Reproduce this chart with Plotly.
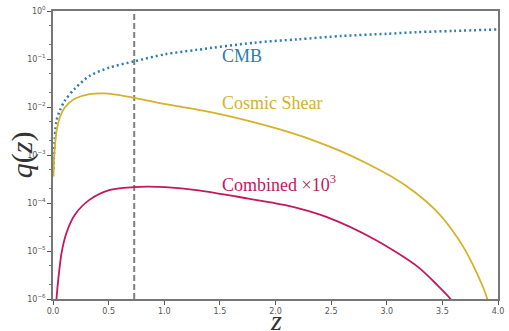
import plotly.graph_objects as go

# --- data (log10 of q) ---
z_cmb = [0.004, 0.03, 0.062, 0.106, 0.195, 0.33, 0.506, 0.727, 1.01, 1.29, 1.81, 2.2, 2.6, 3.0, 3.28, 3.6, 4.0]
lq_cmb = [-3.3, -2.3, -2.07, -1.87, -1.62, -1.35, -1.18, -1.05, -0.90, -0.81, -0.66, -0.59, -0.52, -0.475, -0.44, -0.415, -0.385]

z_cs = [0.004, 0.01, 0.02, 0.033, 0.062, 0.106, 0.195, 0.33, 0.446, 0.565, 0.727, 1.01, 1.215, 1.5,
        1.81, 2.1, 2.37, 2.575, 2.8, 3.05, 3.25, 3.43, 3.58, 3.70, 3.85, 3.905, 3.93]
lq_cs = [-3.45, -3.05, -2.75, -2.48, -2.21, -2.01, -1.83, -1.73, -1.715, -1.74, -1.81, -1.94, -2.02, -2.15,
         -2.32, -2.51, -2.72, -2.91, -3.15, -3.46, -3.77, -4.13, -4.54, -4.96, -5.67, -6.02, -7.0]

z_comb = [0.02, 0.033, 0.047, 0.077, 0.12, 0.195, 0.33, 0.506, 0.727, 0.85, 1.01, 1.29, 1.66, 2.1,
          2.457, 2.9, 3.28, 3.45, 3.58, 3.62]
lq_comb = [-6.4, -5.95, -5.60, -5.04, -4.63, -4.25, -3.93, -3.73, -3.67, -3.66, -3.67, -3.73, -3.87, -4.05,
           -4.29, -4.77, -5.33, -5.70, -6.02, -6.2]

z_mark = 0.73
y_ticks = [0, -1, -2, -3, -4, -5, -6]
x_ticks = [0.0, 0.5, 1.0, 1.5, 2.0, 2.5, 3.0, 3.5, 4.0]

c_cmb = "#2b7bb4"
c_cs = "#d4b22a"
c_comb = "#c4175e"

def q(v):
    return [10 ** a for a in v]

fig = go.Figure()
fig.add_trace(go.Scatter(x=[z_mark, z_mark], y=[1e-6, 1], mode="lines",
                         line=dict(color="#7f7f7f", width=2, dash="6px,3px")))
fig.add_trace(go.Scatter(x=z_cmb, y=q(lq_cmb), mode="lines",
                         line=dict(color=c_cmb, width=2.5, dash="2px,3px", shape="spline", smoothing=0.8)))
fig.add_trace(go.Scatter(x=z_cs, y=q(lq_cs), mode="lines",
                         line=dict(color=c_cs, width=1.8, shape="spline", smoothing=0.8)))
fig.add_trace(go.Scatter(x=z_comb, y=q(lq_comb), mode="lines",
                         line=dict(color=c_comb, width=1.8, shape="spline", smoothing=0.8)))

lab_font = "Liberation Serif, Times New Roman, serif"
fig.add_annotation(x=1.5, y=-0.93, text="CMB", showarrow=False, xanchor="left",
                   font=dict(family=lab_font, size=18, color=c_cmb))
fig.add_annotation(x=1.5, y=-1.91, text="Cosmic Shear", showarrow=False, xanchor="left",
                   font=dict(family=lab_font, size=18, color=c_cs))
fig.add_annotation(x=1.5, y=-3.59, text="Combined ×10<sup>3</sup>", showarrow=False, xanchor="left",
                   font=dict(family=lab_font, size=18, color=c_comb))

fig.add_annotation(xref="paper", yref="paper", x=-0.069, y=0.5, xanchor="center", yanchor="middle",
                   text="<i>q</i>(<i>z</i>)", textangle=-90, showarrow=False,
                   font=dict(family=lab_font, size=30, color="#333"))
fig.add_annotation(xref="paper", yref="paper", x=0.5, y=-0.135, xanchor="center", yanchor="bottom",
                   text="<i>z</i>", showarrow=False, font=dict(family=lab_font, size=28, color="#333"))

fig.update_layout(
    width=509, height=331, showlegend=False,
    margin=dict(l=53, r=5, t=10, b=32),
    plot_bgcolor="white", paper_bgcolor="white",
    xaxis=dict(range=[0, 4], tickvals=x_ticks, ticktext=[f"{v:.1f}" for v in x_ticks],
               ticks="outside", ticklen=4, tickcolor="#555", showgrid=False, zeroline=False,
               showline=True, linecolor="#777", linewidth=1.5, mirror=True,
               tickfont=dict(size=8, color="#555", family="DejaVu Sans")),
    yaxis=dict(type="log", range=[-6, 0], tickvals=[10 ** v for v in y_ticks],
               ticktext=[f"10<sup>{str(v).replace('-', '−')}</sup>" for v in y_ticks],
               ticks="outside", ticklen=4, tickcolor="#555", showgrid=False, zeroline=False,
               showline=True, linecolor="#777", linewidth=1.5, mirror=True,
               tickfont=dict(size=8, color="#555", family="DejaVu Sans"),
               minor=dict(ticks="outside", ticklen=2, tickcolor="#777", showgrid=False)),
)

fig.write_html("out.html")
